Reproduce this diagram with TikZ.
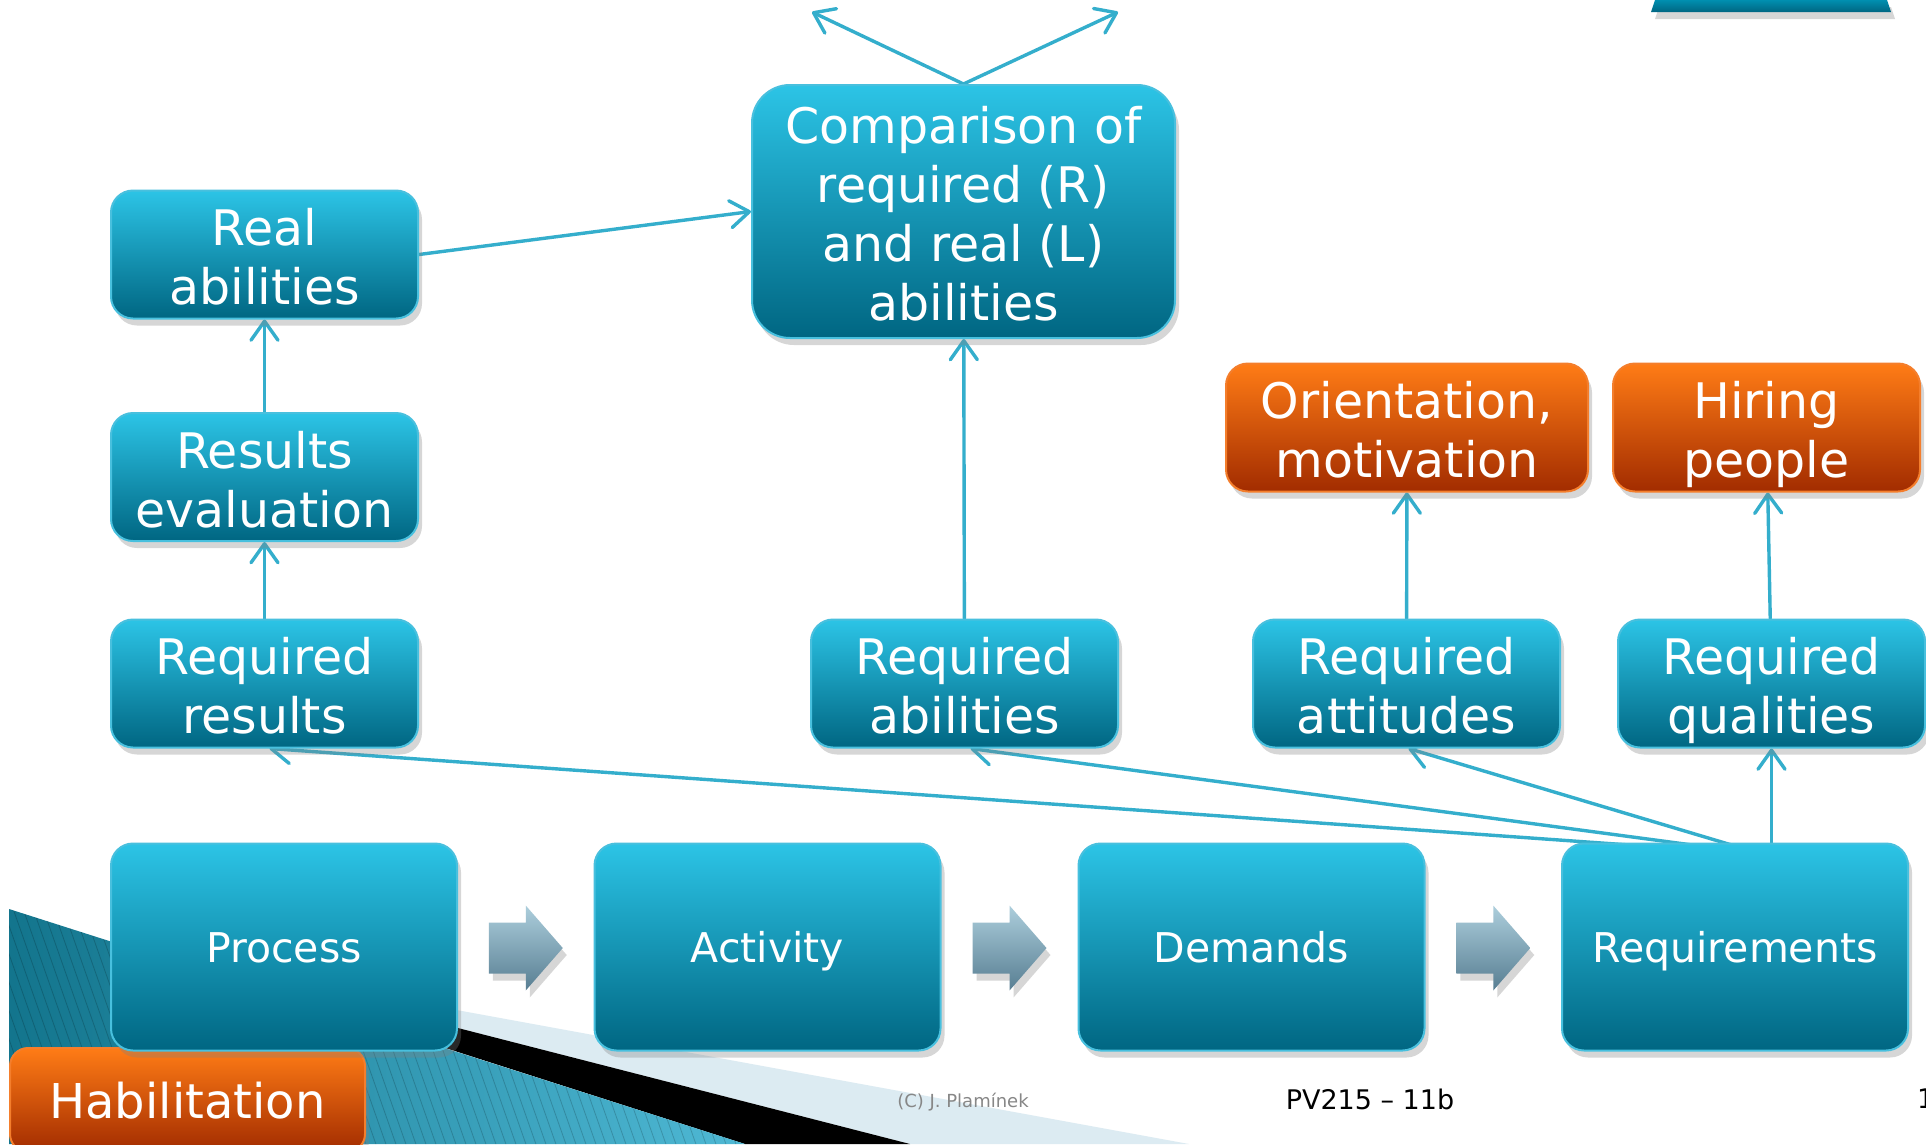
\documentclass[tikz,border=0pt]{standalone}
\usepackage{fontspec}
\setmainfont{DejaVu Sans}
\usetikzlibrary{arrows.meta,shadows,calc}

\pgfdeclarelayer{deco}
\pgfdeclarelayer{links}
\pgfsetlayers{deco,links,main}

\definecolor{tealtop}{RGB}{44,196,230}
\definecolor{tealmid}{RGB}{0,170,206}
\definecolor{tealbot}{RGB}{0,102,130}
\definecolor{tealedge}{RGB}{72,192,222}
\definecolor{orgtop}{RGB}{255,124,22}
\definecolor{orgmid}{RGB}{236,88,0}
\definecolor{orgbot}{RGB}{162,44,0}
\definecolor{orgedge}{RGB}{244,126,44}
\definecolor{linkcol}{RGB}{52,174,204}
\definecolor{chevtop}{RGB}{172,206,220}
\definecolor{chevbot}{RGB}{88,126,146}
\definecolor{bandlight}{RGB}{220,235,242}
\definecolor{wedgeL}{RGB}{18,116,140}
\definecolor{wedgeR}{RGB}{80,186,214}
\definecolor{footgray}{RGB}{135,135,135}

\tikzset{
  shadowed/.style={drop shadow={opacity=0.32, shadow xshift=4pt, shadow yshift=-7pt}},
  % fixed text box sizes keep every label at the same height inside its block
  box/.style={rectangle, rounded corners=22pt, draw=tealedge, line width=2pt,
    top color=tealtop, middle color=tealmid, bottom color=tealbot,
    text=white, align=center, inner sep=0pt, shadowed,
    text height=100pt, text depth=0pt, font=\fontsize{49}{59}\selectfont},
  smallbox/.style={box, minimum width=307pt, minimum height=128pt},
  orangebox/.style={smallbox, draw=orgedge,
    top color=orgtop, middle color=orgmid, bottom color=orgbot},
  stagebox/.style={box, minimum width=346pt, minimum height=207pt,
    text height=31pt, font=\fontsize{41}{49}\selectfont},
  conn/.style={draw=linkcol, line width=3.4pt, line cap=round,
    -{Straight Barb[length=19pt, width=27pt, line cap=round, line join=round]}},
  chev/.pic={
    \shade[top color=chevtop, bottom color=chevbot, shadowed]
      (-37,-25.5) -- (0,-25.5) -- (0,-42.5) -- (37,0) -- (0,42.5)
      -- (0,25.5) -- (-37,25.5) -- cycle;
  }
}

\begin{document}
\begin{tikzpicture}[x=1pt,y=-1pt]
\useasboundingbox (0,0) rectangle (1926,1144);

% ---------- slide decoration ----------
\begin{pgfonlayer}{deco}
  \fill[white] (0,0) rectangle (1926,1144);
  % pale band and black band running to the lower edge
  \fill[bandlight] (380,996) -- (1189,1144) -- (910,1144) -- (380,1008) -- cycle;
  \fill[black] (380,1008) -- (910,1144) -- (745,1144) -- (380,1027) -- cycle;
  % hatched teal wedge in the lower left corner
  \begin{scope}
    \clip (9,909) -- (745,1144) -- (9,1144) -- cycle;
    \shade[left color=wedgeL, right color=wedgeR] (0,900) rectangle (760,1144);
    \foreach \k in {-30,...,80}
      \draw[black, opacity=0.18, line width=0.8pt] (\k*10,900) -- ++(88,250);
  \end{scope}
  % tab at the upper edge
  \shade[top color=tealmid!60!tealbot, bottom color=tealbot, shadowed]
    (1655,0) -- (1887,0) -- (1891,12) -- (1651,12) -- cycle;
\end{pgfonlayer}

% ---------- upper blocks ----------
\node[smallbox] (ra) at (264.5,254.5) {Real\\abilities};
\node[smallbox] (re) at (264.5,477) {Results\\evaluation};
\node[smallbox] (rr) at (264.5,683.5) {Required\\results};
\node[box, rounded corners=38pt, minimum width=423pt, minimum height=253pt,
  text height=218pt]
  (cmp) at (963.5,211.5) {Comparison of\\required (R)\\and real (L)\\abilities};
\node[smallbox] (rab) at (964.5,683.5) {Required\\abilities};
\node[orangebox, minimum width=362pt] (ori) at (1407,427.5) {Orientation,\\motivation};
\node[orangebox] (hire) at (1766.5,427.5) {Hiring\\people};
\node[smallbox] (rat) at (1406.5,683.5) {Required\\attitudes};
\node[smallbox] (rq) at (1771.5,683.5) {Required\\qualities};

% ---------- stage row ----------
\node[stagebox, draw=orgedge, top color=orgtop, middle color=orgmid,
  bottom color=orgbot, rounded corners=18pt, minimum width=355pt,
  minimum height=104pt, text height=36.5pt, font=\fontsize{48}{56}\selectfont]
  (hab) at (187.5,1100) {Habilitation};
\node[stagebox] (proc) at (284,947) {Process};
\node[stagebox] (act) at (767.5,947) {Activity};
\node[stagebox] (dem) at (1251.5,947) {Demands};
\node[stagebox] (req) at (1735,947) {Requirements};

\pic at ($(proc.east)!0.5!(act.west)+(0,1)$) {chev};
\pic at ($(act.east)!0.5!(dem.west)+(0,1)$) {chev};
\pic at ($(dem.east)!0.5!(req.west)+(0,1)$) {chev};

% ---------- footer ----------
\node[text=footgray, font=\fontsize{18}{20}\selectfont] (copy) at (963,1102) {(C) J. Plamínek};
\node[text=black, font=\fontsize{27}{30}\selectfont] (course) at (1370,1099) {PV215 – 11b};
\node[text=black, anchor=west, inner sep=0pt, font=\fontsize{27}{30}\selectfont] (pg) at (1917,1099) {1};

% ---------- connectors ----------
\coordinate (hub) at ($(req.north -| rq.south)+(-8,12)$);
\coordinate (qfoot) at (req.north -| rq.south);
\coordinate (tl) at (812,12);
\coordinate (tr) at (1118,12);
\begin{pgfonlayer}{links}
  \draw[conn] (cmp.north) -- (tl);
  \draw[conn] (cmp.north) -- (tr);
  \draw[conn] (ra.east) -- (cmp.west);
  \draw[conn] (re) -- (ra);
  \draw[conn] (rr) -- (re);
  \draw[conn] (rab) -- (cmp);
  \draw[conn] (rat) -- (ori);
  \draw[conn] (rq) -- (hire);
  \draw[conn] (hub) -- ($(rr.south)+(5,0)$);
  \draw[conn] (hub) -- ($(rab.south)+(6,0)$);
  \draw[conn] (hub) -- ($(rat.south)+(2,0)$);
  \draw[conn] (qfoot) -- (rq.south);
\end{pgfonlayer}
\end{tikzpicture}
\end{document}
